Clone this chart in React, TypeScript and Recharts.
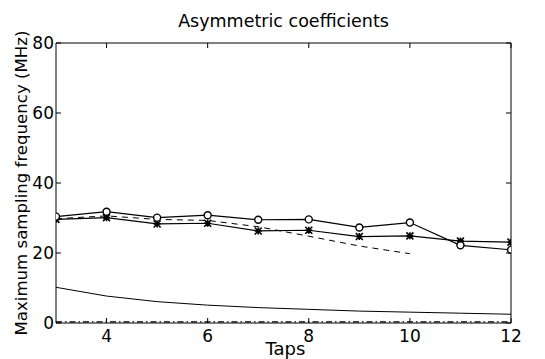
import React from 'react';
import { LineChart, Line, XAxis, YAxis } from 'recharts';

// taps on the x axis
const taps = [3, 4, 5, 6, 7, 8, 9, 10, 11, 12];

// (MHz)
const circleSeries = [30.4, 31.8, 30.1, 30.8, 29.5, 29.6, 27.3, 28.7, 22.2, 20.9];
const starSeries = [29.6, 30.1, 28.3, 28.5, 26.3, 26.5, 24.7, 24.9, 23.4, 23.1];
const dashedSeries = [29.8, 30.6, 29.6, 29.3, 27.5, 24.8, 22.0, 19.8, null, null];
const lowerSeries = [10.2, 7.7, 6.1, 5.1, 4.4, 3.9, 3.4, 3.1, 2.8, 2.5];
const floorSeries = [0.3, 0.3, 0.3, 0.3, 0.3, 0.3, 0.3, 0.3, 0.3, 0.3];

const xTicks = [4, 6, 8, 10, 12];
const yTicks = [0, 20, 40, 60, 80];

const data = taps.map((t, i) => ({
    tap: t,
    circle: circleSeries[i],
    star: starSeries[i],
    dashed: dashedSeries[i],
    lower: lowerSeries[i],
    floor: floorSeries[i],
}));

const FONT = '"DejaVu Sans", sans-serif';
const TICK_LEN = 5;

const BottomTick = (props: any) => {
    const { x, y, payload } = props;
    return (
        <g>
            <line x1={x} y1={y} x2={x} y2={y - TICK_LEN} stroke="#000" />
            <text x={x} y={y + 19} textAnchor="middle" fontFamily={FONT} fontSize={17} fill="#000">
                {payload.value}
            </text>
        </g>
    );
};

const LeftTick = (props: any) => {
    const { x, y, payload } = props;
    return (
        <g>
            <line x1={x} y1={y} x2={x + TICK_LEN} y2={y} stroke="#000" />
            <text x={x - 2} y={y + 6} textAnchor="end" fontFamily={FONT} fontSize={17} fill="#000">
                {payload.value}
            </text>
        </g>
    );
};

const TopTick = (props: any) => {
    const { x, y } = props;
    return <line x1={x} y1={y} x2={x} y2={y + TICK_LEN} stroke="#000" />;
};

const RightTick = (props: any) => {
    const { x, y } = props;
    return <line x1={x} y1={y} x2={x - TICK_LEN} y2={y} stroke="#000" />;
};

const CircleDot = (props: any) => {
    const { cx, cy } = props;
    if (cx == null || cy == null) return null;
    return <circle cx={cx} cy={cy} r={3.5} fill="#fff" stroke="#000" strokeWidth={1.4} />;
};

const StarDot = (props: any) => {
    const { cx, cy } = props;
    if (cx == null || cy == null) return null;
    const s = 3.5;
    return (
        <path
            d={`M${cx - s},${cy}H${cx + s}M${cx},${cy - s}V${cy + s}M${cx - s},${cy - s}L${cx + s},${cy + s}M${cx - s},${cy + s}L${cx + s},${cy - s}`}
            stroke="#000"
            strokeWidth={1.6}
            fill="none"
        />
    );
};

export default function App() {
    return (
        <div style={{ position: 'absolute', left: 0, top: 0, background: '#fff' }}>
            <LineChart width={545} height={359} data={data} margin={{ top: 42, right: 33, bottom: 0, left: 0 }}>
                <XAxis
                    xAxisId="b"
                    dataKey="tap"
                    type="number"
                    domain={[3, 12]}
                    ticks={xTicks}
                    allowDataOverflow
                    height={36}
                    tickSize={0}
                    tickMargin={0}
                    tick={<BottomTick />}
                    axisLine={{ stroke: '#000' }}
                    label={{
                        content: (p: any) => (
                            <text
                                x={p.viewBox.x + p.viewBox.width / 2 + 2}
                                y={p.viewBox.y + 32}
                                textAnchor="middle"
                                fontFamily={FONT}
                                fontSize={18}
                                fill="#000"
                            >
                                Taps
                            </text>
                        ),
                    }}
                />
                <XAxis
                    xAxisId="t"
                    orientation="top"
                    dataKey="tap"
                    type="number"
                    domain={[3, 12]}
                    ticks={xTicks}
                    allowDataOverflow
                    height={1}
                    tickSize={0}
                    tickMargin={0}
                    tick={<TopTick />}
                    axisLine={{ stroke: '#000' }}
                    label={{
                        content: (p: any) => (
                            <text
                                x={p.viewBox.x + p.viewBox.width / 2}
                                y={p.viewBox.y - 15}
                                textAnchor="middle"
                                fontFamily={FONT}
                                fontSize={17.5}
                                fill="#000"
                            >
                                Asymmetric coefficients
                            </text>
                        ),
                    }}
                />
                <YAxis
                    yAxisId="l"
                    type="number"
                    domain={[0, 80]}
                    ticks={yTicks}
                    allowDataOverflow
                    width={56}
                    tickSize={0}
                    tickMargin={0}
                    tick={<LeftTick />}
                    axisLine={{ stroke: '#000' }}
                    label={{
                        content: (p: any) => {
                            const cx = 27;
                            const cy = p.viewBox.y + p.viewBox.height / 2;
                            return (
                                <text
                                    x={cx}
                                    y={cy}
                                    transform={`rotate(-90 ${cx} ${cy})`}
                                    textAnchor="middle"
                                    fontFamily={FONT}
                                    fontSize={16.6}
                                    fill="#000"
                                >
                                    Maximum sampling frequency (MHz)
                                </text>
                            );
                        },
                    }}
                />
                <YAxis
                    yAxisId="r"
                    orientation="right"
                    type="number"
                    domain={[0, 80]}
                    ticks={yTicks}
                    allowDataOverflow
                    width={1}
                    tickSize={0}
                    tickMargin={0}
                    tick={<RightTick />}
                    axisLine={{ stroke: '#000' }}
                />
                {/* invisible series so the top/right frame axes get drawn */}
                <Line xAxisId="t" yAxisId="r" dataKey="floor" stroke="none" dot={false} activeDot={false} legendType="none" isAnimationActive={false} />
                <Line xAxisId="b" yAxisId="l" dataKey="floor" stroke="#000" strokeWidth={1.2} strokeDasharray="6 3 1.5 3" dot={false} isAnimationActive={false} />
                <Line xAxisId="b" yAxisId="l" dataKey="lower" stroke="#000" strokeWidth={1} dot={false} isAnimationActive={false} />
                <Line xAxisId="b" yAxisId="l" dataKey="dashed" stroke="#000" strokeWidth={1} strokeDasharray="6 5" dot={false} isAnimationActive={false} />
                <Line xAxisId="b" yAxisId="l" dataKey="star" stroke="#000" strokeWidth={1.2} dot={<StarDot />} isAnimationActive={false} />
                <Line xAxisId="b" yAxisId="l" dataKey="circle" stroke="#000" strokeWidth={1.2} dot={<CircleDot />} isAnimationActive={false} />
            </LineChart>
        </div>
    );
}
